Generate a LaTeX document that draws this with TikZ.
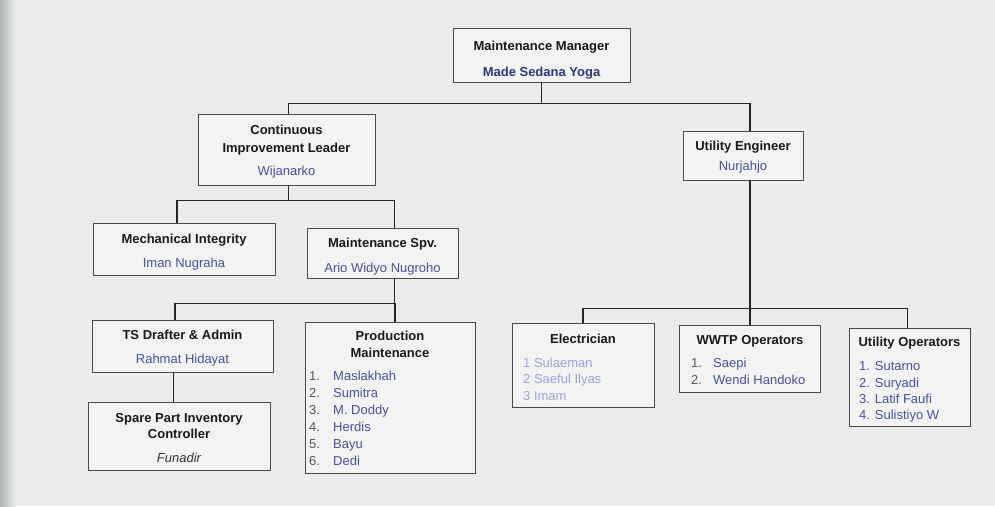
\documentclass[tikz,border=0pt]{standalone}
\usepackage{fontspec}
\setmainfont{Liberation Sans}
\usetikzlibrary{calc}
\definecolor{bg}{HTML}{EAEDEB}
\definecolor{edge}{HTML}{B4B8B5}
\definecolor{boxfill}{HTML}{F2F3F2}
\definecolor{boxline}{HTML}{4A4A4A}
\definecolor{navy}{HTML}{2E3878}
\definecolor{nameblue}{HTML}{4A529A}
\definecolor{fadeblue}{HTML}{9EA3D6}
\definecolor{numgrey}{HTML}{555860}
\tikzset{
  orgbox/.style={draw=boxline, line width=0.9pt, fill=boxfill, inner sep=0pt},
  conn/.style={draw=black!85, line width=1.3pt},
  ttl/.style={font=\fontsize{13}{15}\selectfont\bfseries, anchor=base, inner sep=0pt, text=black!90},
  nm/.style={font=\fontsize{13}{15}\selectfont, anchor=base, inner sep=0pt, text=nameblue},
  nml/.style={nm, anchor=base west},
  num/.style={font=\fontsize{13}{15}\selectfont, anchor=base west, inner sep=0pt, text=numgrey},
}
\begin{document}
\begin{tikzpicture}[x=1pt,y=-1pt]
\useasboundingbox (0,0) rectangle (995,506);
\fill[bg] (0,0) rectangle (995,506);
\shade[left color=edge, right color=bg] (0,0) rectangle (16,506);

% boxes
\node[orgbox, minimum width=177pt, minimum height=54pt] (mm)  at (541.5,55) {};
\node[orgbox, minimum width=177pt, minimum height=71pt] (cil) at (286.5,149.5) {};
\node[orgbox, minimum width=120pt, minimum height=49pt] (ue)  at (743,155.5) {};
\node[orgbox, minimum width=182pt, minimum height=52pt] (mi)  at (184,249) {};
\node[orgbox, minimum width=151pt, minimum height=50pt] (spv) at (382.5,253) {};
\node[orgbox, minimum width=181pt, minimum height=52pt] (ts)  at (182.5,346) {};
\node[orgbox, minimum width=170pt, minimum height=151pt] (pm) at (390,397.5) {};
\node[orgbox, minimum width=182pt, minimum height=68pt] (sp)  at (179,436) {};
\node[orgbox, minimum width=142pt, minimum height=84pt] (el)  at (583,365) {};
\node[orgbox, minimum width=141pt, minimum height=67pt] (ww)  at (750,358.5) {};
\node[orgbox, minimum width=121pt, minimum height=98pt] (uo)  at (909.5,377) {};

% connectors
\draw[conn] (mm.south) -- ++(0,21) coordinate (bus1);
\draw[conn] ([xshift=2pt]cil.north) |- (bus1) -| ([xshift=7pt]ue.north);
\draw[conn] ([xshift=2pt]cil.south) -- ++(0,15) coordinate (bus2);
\draw[conn] ([xshift=-7pt]mi.north) |- (bus2) -| ([xshift=12pt]spv.north);
\draw[conn] ([xshift=12pt]spv.south) -- ++(0,25) coordinate (bus3);
\draw[conn] ([xshift=-7.5pt]ts.north) |- (bus3) -| ([xshift=5pt]pm.north);
\draw[conn] ([xshift=-9pt]ts.south) -- ([xshift=-9pt]ts.south |- sp.north);
\draw[conn] ([xshift=7pt]ue.south) -- ++(0,128) coordinate (bus4);
\draw[conn] (el.north) |- (bus4) -| ([xshift=-2pt]uo.north);
\draw[conn] (bus4) -- (ww.north);

% texts
\node[ttl] (t1) at (541.5,50) {Maintenance Manager};
\node[ttl, text=navy] (n1) at (541.5,76) {Made Sedana Yoga};

\node[ttl] (t2a) at (286.5,134) {Continuous};
\node[ttl] (t2b) at (286.5,152) {Improvement Leader};
\node[nm] (n2) at (286.5,175) {Wijanarko};

\node[ttl] (t3) at (743,150) {Utility Engineer};
\node[nm] (n3) at (743,170) {Nurjahjo};

\node[ttl] (t4) at (184,243) {Mechanical Integrity};
\node[nm] (n4) at (184,267) {Iman Nugraha};

\node[ttl] (t5) at (382.5,247) {Maintenance Spv.};
\node[nm] (n5) at (382.5,272) {Ario Widyo Nugroho};

\node[ttl] (t6) at (182.5,339) {TS Drafter \& Admin};
\node[nm] (n6) at (182.5,363) {Rahmat Hidayat};

\node[ttl] (t7a) at (179,422) {Spare Part Inventory};
\node[ttl] (t7b) at (179,438) {Controller};
\node[nm, text=black!80, font=\fontsize{13}{15}\selectfont\itshape] (n7) at (179,462) {Funadir};

\node[ttl] (t8a) at (390,340) {Production};
\node[ttl] (t8b) at (390,357) {Maintenance};
\node[num] (p1) at (309,380) {1.};
\node[num] (p2) at (309,397) {2.};
\node[num] (p3) at (309,414) {3.};
\node[num] (p4) at (309,431) {4.};
\node[num] (p5) at (309,448) {5.};
\node[num] (p6) at (309,465) {6.};
\node[nml] (q1) at (333,380) {Maslakhah};
\node[nml] (q2) at (333,397) {Sumitra};
\node[nml] (q3) at (333,414) {M. Doddy};
\node[nml] (q4) at (333,431) {Herdis};
\node[nml] (q5) at (333,448) {Bayu};
\node[nml] (q6) at (333,465) {Dedi};

\node[ttl] (t9) at (583,343) {Electrician};
\node[nml, text=fadeblue] (e1) at (523,367) {1 Sulaeman};
\node[nml, text=fadeblue] (e2) at (523,383) {2 Saeful Ilyas};
\node[nml, text=fadeblue] (e3) at (523,400) {3 Imam};

\node[ttl] (t10) at (750,344) {WWTP Operators};
\node[num] (w1) at (691,367) {1.};
\node[num] (w2) at (691,384) {2.};
\node[nml] (x1) at (713,367) {Saepi};
\node[nml] (x2) at (713,384) {Wendi Handoko};

\node[ttl] (t11) at (909.5,346) {Utility Operators};
\node[nml] (u1) at (859,370) {1. Sutarno};
\node[nml] (u2) at (859,387) {2. Suryadi};
\node[nml] (u3) at (859,403) {3. Latif Faufi};
\node[nml] (u4) at (859,419) {4. Sulistiyo W};
\end{tikzpicture}
\end{document}
